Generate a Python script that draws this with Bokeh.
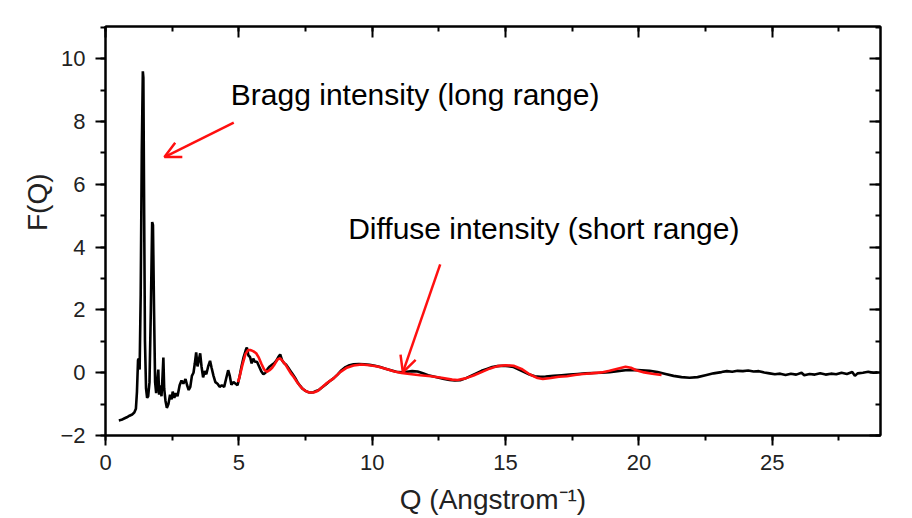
from bokeh.plotting import figure
from bokeh.models import (LinearAxis, Range1d, SingleIntervalTicker, Arrow, OpenHead,
                          Label, Title)
from bokeh.embed import file_html
from bokeh.resources import INLINE

# ---- data ----
q_black = [0.50, 0.60, 0.70, 0.80, 0.90, 1.00, 1.08, 1.14, 1.18, 1.22, 1.25, 1.28, 1.32, 1.36,
           1.40, 1.42, 1.45, 1.48, 1.52, 1.56, 1.60, 1.65, 1.70, 1.75, 1.78, 1.82, 1.86, 1.90,
           1.95, 1.98, 2.01, 2.05, 2.10, 2.14, 2.17, 2.20, 2.25, 2.30, 2.36, 2.42, 2.48, 2.52,
           2.58, 2.64, 2.70, 2.78, 2.85, 2.92, 3.00, 3.06, 3.12, 3.18, 3.24, 3.30, 3.35, 3.40,
           3.45, 3.50, 3.55, 3.60, 3.66, 3.72, 3.78, 3.85, 3.92, 3.98, 4.05, 4.12, 4.20, 4.28,
           4.36, 4.45, 4.52, 4.60, 4.66, 4.72, 4.80, 4.88, 4.95, 5.02, 5.10, 5.18, 5.26, 5.30,
           5.36, 5.42, 5.48, 5.54, 5.60, 5.68, 5.76, 5.84, 5.92, 6.00, 6.08, 6.16, 6.24, 6.32,
           6.40, 6.48, 6.55, 6.62, 6.70, 6.78, 6.86, 6.94, 7.02, 7.10, 7.20, 7.30, 7.40, 7.50,
           7.60, 7.70, 7.80, 7.90, 8.00, 8.10, 8.25, 8.40, 8.55, 8.70, 8.85, 9.00, 9.15, 9.30,
           9.50, 9.70, 9.90, 10.10, 10.30, 10.50, 10.70, 10.90, 11.10, 11.30, 11.50, 11.70,
           11.90, 12.10, 12.30, 12.50, 12.70, 12.90, 13.10, 13.30, 13.50, 13.70, 13.90, 14.10,
           14.30, 14.50, 14.70, 14.90, 15.10, 15.30, 15.50, 15.70, 15.90, 16.10, 16.30, 16.50,
           16.80, 17.10, 17.40, 17.70, 18.00, 18.30, 18.60, 18.90, 19.20, 19.50, 19.80, 20.10,
           20.40, 20.70, 21.00, 21.30, 21.60, 21.90, 22.20, 22.50, 22.80, 23.10, 23.30, 23.50,
           23.70, 23.90, 24.10, 24.30, 24.50, 24.70, 24.90, 25.10, 25.30, 25.50, 25.70, 25.90,
           26.10, 26.20, 26.40, 26.60, 26.80, 27.00, 27.20, 27.40, 27.60, 27.80, 28.00, 28.10,
           28.20, 28.40, 28.60, 28.80, 28.95]
f_black = [-1.52, -1.50, -1.46, -1.42, -1.37, -1.33, -1.27, -1.15, -0.60, 0.40, 0.45, 0.10, 2.5, 7.0,
           9.6, 9.4, 5.0, 1.0, -0.5, -0.80, -0.75, -0.3, 2.0, 4.8, 4.7, 2.0, -0.3, -0.65,
           -0.2, 0.1, -0.7, -0.4, -0.75, -0.1, 0.48, -0.5, -0.9, -1.12, -1.0, -0.7, -0.85, -0.6,
           -0.8, -0.65, -0.75, -0.4, -0.25, -0.35, -0.2, -0.4, -0.55, -0.45, -0.1, 0.0, 0.3, 0.65,
           0.2, 0.4, 0.62, 0.2, -0.15, 0.05, -0.05, 0.2, 0.38, 0.15, -0.1, -0.3, -0.35, -0.45,
           -0.4, -0.45, -0.2, 0.08, -0.1, -0.38, -0.3, -0.35, -0.40, -0.15, 0.2, 0.5, 0.72, 0.80,
           0.55, 0.50, 0.30, 0.45, 0.35, 0.35, 0.2, 0.05, -0.05, 0.0, 0.12, 0.2, 0.25, 0.3,
           0.38, 0.50, 0.58, 0.40, 0.30, 0.25, 0.15, 0.05, -0.05, -0.15, -0.30, -0.42, -0.52, -0.58,
           -0.62, -0.63, -0.62, -0.58, -0.55, -0.48, -0.38, -0.27, -0.18, -0.06, 0.08, 0.18, 0.24, 0.27,
           0.28, 0.27, 0.25, 0.22, 0.18, 0.13, 0.08, 0.03, 0.01, 0.03, 0.05, 0.04,
           -0.02, -0.08, -0.12, -0.16, -0.20, -0.23, -0.25, -0.24, -0.18, -0.10, -0.02, 0.06,
           0.12, 0.18, 0.21, 0.22, 0.21, 0.18, 0.10, 0.02, -0.06, -0.11, -0.13, -0.12,
           -0.10, -0.08, -0.06, -0.04, -0.02, -0.01, 0.00, 0.02, 0.05, 0.08, 0.09, 0.08,
           0.06, 0.02, -0.04, -0.10, -0.14, -0.16, -0.14, -0.08, -0.02, 0.02, 0.05, 0.03,
           0.06, 0.05, 0.07, 0.04, 0.05, 0.01, -0.02, -0.05, -0.03, -0.07, -0.03, -0.06,
           0.00, -0.08, -0.04, -0.06, -0.02, -0.06, -0.03, -0.05, 0.00, -0.04, 0.02, -0.10,
           -0.02, 0.00, 0.03, 0.00, 0.01]

q_red = [4.97, 5.05, 5.15, 5.25, 5.35, 5.45, 5.55, 5.65, 5.75, 5.85, 5.95, 6.05, 6.15, 6.25,
         6.35, 6.45, 6.55, 6.65, 6.75, 6.85, 6.95, 7.05, 7.20, 7.35, 7.50, 7.65, 7.80, 7.95,
         8.10, 8.30, 8.55, 8.80, 9.05, 9.30, 9.60, 9.90, 10.20, 10.50, 10.80, 11.10, 11.40,
         11.80, 12.20, 12.60, 13.00, 13.20, 13.50, 13.80, 14.10, 14.40, 14.70, 15.00, 15.30,
         15.60, 15.90, 16.20, 16.40, 16.70, 17.00, 17.30, 17.60, 17.90, 18.20, 18.60, 18.90,
         19.20, 19.50, 19.70, 19.90, 20.20, 20.50, 20.85]
f_red = [-0.30, -0.05, 0.30, 0.60, 0.72, 0.72, 0.68, 0.62, 0.48, 0.28, 0.10, 0.03, 0.08, 0.16,
         0.28, 0.42, 0.46, 0.36, 0.26, 0.12, -0.02, -0.13, -0.32, -0.48, -0.58, -0.63, -0.63, -0.58,
         -0.48, -0.33, -0.18, 0.02, 0.16, 0.23, 0.26, 0.24, 0.20, 0.13, 0.05, -0.01, -0.04,
         -0.08, -0.11, -0.16, -0.22, -0.23, -0.18, -0.09, 0.02, 0.13, 0.21, 0.24, 0.22,
         0.12, -0.05, -0.17, -0.20, -0.17, -0.13, -0.11, -0.07, -0.04, -0.02, 0.01, 0.06,
         0.13, 0.19, 0.16, 0.08, 0.01, -0.03, -0.07]

annot_texts = ["Bragg intensity (long range)", "Diffuse intensity (short range)"]
annot_x = [4.70, 9.10]
annot_y = [8.86, 4.58]
arrow_start_x = [4.81, 12.55]
arrow_start_y = [7.97, 3.45]
arrow_end_x = [2.21, 11.15]
arrow_end_y = [6.87, 0.01]

x_label = "Q (Angstrom\u207b\u00b9)"
y_label = "F(Q)"

FONT = "Liberation Sans"

p = figure(width=912, height=518, output_backend="svg", toolbar_location=None,
           x_range=Range1d(0, 29.06), y_range=Range1d(-2, 11.03),
           min_border_left=105, min_border_right=32, min_border_top=26, min_border_bottom=83)
p.background_fill_color = "white"
p.border_fill_color = "white"
p.outline_line_color = "black"
p.outline_line_width = 2
p.grid.visible = False

xt = SingleIntervalTicker(interval=5, num_minor_ticks=2)
yt = SingleIntervalTicker(interval=2, num_minor_ticks=2)

for ax, tk in ((p.xaxis[0], xt), (p.yaxis[0], yt)):
    ax.ticker = tk
    ax.axis_line_width = 2
    ax.axis_line_color = "black"
    ax.major_tick_line_width = 2
    ax.minor_tick_line_width = 2
    ax.major_tick_out = 10
    ax.major_tick_in = 0
    ax.minor_tick_out = 5
    ax.minor_tick_in = 0
    ax.major_label_text_font = FONT
    ax.major_label_text_font_size = "22px"
    ax.major_label_text_color = "#222222"
    ax.axis_label_text_font = FONT
    ax.axis_label_text_font_style = "normal"
    ax.axis_label_text_color = "#222222"

p.xaxis[0].axis_label = x_label
p.xaxis[0].axis_label_text_font_size = "28px"
p.xaxis[0].major_label_standoff = 9
p.xaxis[0].axis_label_standoff = 11
p.yaxis[0].major_label_standoff = 10

for loc, tk in (("above", xt), ("right", yt)):
    ax = LinearAxis(ticker=tk)
    ax.axis_line_width = 2
    ax.major_tick_line_width = 2
    ax.minor_tick_line_width = 2
    ax.major_tick_in = 11
    ax.major_tick_out = 0
    ax.minor_tick_in = 5
    ax.minor_tick_out = 0
    ax.major_label_text_font_size = "1px"
    ax.major_label_text_color = None
    ax.major_label_standoff = 0
    p.add_layout(ax, loc)

# y-axis title placed a little above the frame centre, as in the original
p.add_layout(Title(text=y_label, align="right", offset=147, text_font=FONT,
                   text_font_size="28px", text_font_style="normal",
                   text_color="#222222", standoff=10), "left")

p.line(q_black, f_black, line_color="black", line_width=2.6)
p.line(q_red, f_red, line_color="#ff1010", line_width=2.6)

for i in range(2):
    p.add_layout(Arrow(end=OpenHead(size=16, line_color="#ff1010", line_width=2.5),
                       x_start=arrow_start_x[i], y_start=arrow_start_y[i],
                       x_end=arrow_end_x[i], y_end=arrow_end_y[i],
                       line_color="#ff1010", line_width=2.5))
    p.add_layout(Label(x=annot_x[i], y=annot_y[i], text=annot_texts[i],
                       text_font=FONT, text_font_size="30px", text_color="black",
                       text_baseline="alphabetic", text_align="left"))

open("out.html", "w").write(file_html(p, INLINE))
